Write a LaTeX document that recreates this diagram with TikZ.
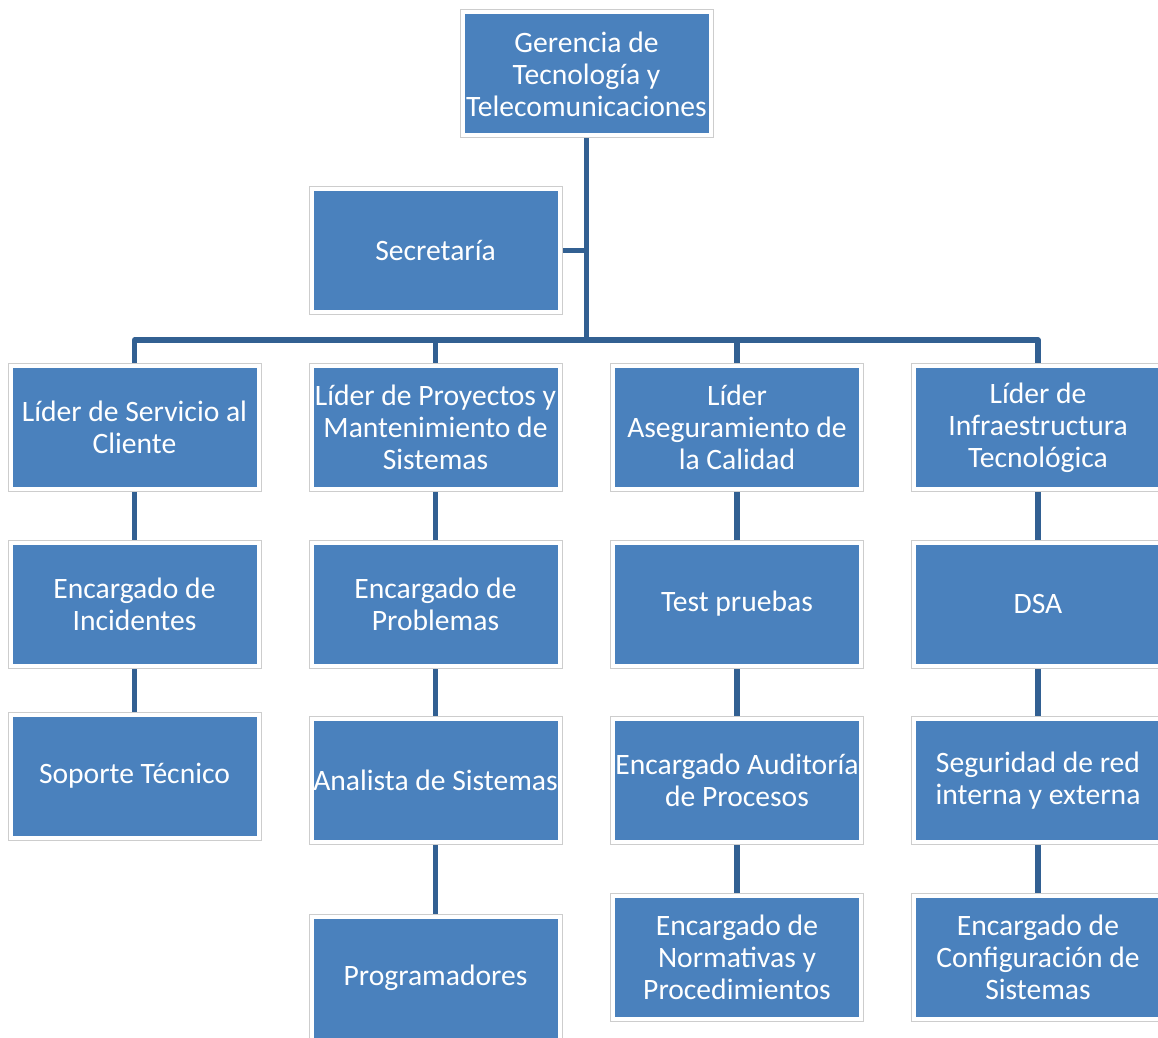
\documentclass[tikz,border=0pt]{standalone}
\usepackage{fontspec}
\setmainfont{Carlito}
\usetikzlibrary{calc}
\pgfdeclarelayer{bg}
\pgfsetlayers{bg,main}
\definecolor{boxblue}{RGB}{74,129,189}
\definecolor{lineblue}{RGB}{50,96,146}
\definecolor{rimgray}{RGB}{205,205,205}
\tikzset{
  orgbox/.style={rectangle, fill=boxblue, draw=white, line width=2pt,
    preaction={draw=rimgray, line width=3pt},
    minimum width=124pt, minimum height=61.5pt, inner sep=0pt,
    align=center, text=white,
    font=\fontsize{14.8pt}{16pt}\selectfont},
  link/.style={draw=lineblue, line width=2.6pt, line join=round}
}
\begin{document}
\begin{tikzpicture}[x=0.5pt,y=-0.5pt]
\useasboundingbox (0,0) rectangle (1158,1038);
% top and secretary
\node[orgbox] (top) at (586.5,74) {Gerencia de\\Tecnología y\\Telecomunicaciones};
\node[orgbox] (sec) at (435.5,250.5) {Secretaría};
% row 1
\node[orgbox] (l1) at (134.5,427.5) {Líder de Servicio al\\Cliente};
\node[orgbox] (l2) at (435.5,427.5) {Líder de Proyectos y\\Mantenimiento de\\Sistemas};
\node[orgbox] (l3) at (737,427.5) {Líder\\Aseguramiento de\\la Calidad};
\node[orgbox] (l4) at (1038,427.5) {Líder de\\Infraestructura\\Tecnológica};
% row 2
\node[orgbox] (a1) at (134.5,604) {Encargado de\\Incidentes};
\node[orgbox] (a2) at (435.5,604) {Encargado de\\Problemas};
\node[orgbox] (a3) at (737,604) {Test pruebas};
\node[orgbox] (a4) at (1038,604) {DSA};
% row 3
\node[orgbox] (b1) at (134.5,776) {Soporte Técnico};
\node[orgbox] (b2) at (435.5,780.5) {Analista de Sistemas};
\node[orgbox] (b3) at (737,780.5) {Encargado Auditoría\\de Procesos};
\node[orgbox] (b4) at (1038,780.5) {Seguridad de red\\interna y externa};
% row 4
\node[orgbox] (c2) at (435.5,978) {Programadores};
\node[orgbox] (c3) at (737,957) {Encargado de\\Normativas y\\Procedimientos};
\node[orgbox] (c4) at (1038,957) {Encargado de\\Configuración de\\Sistemas};
% connectors
\coordinate (bus) at (587,340);
\begin{pgfonlayer}{bg}
\draw[link] (top.south) -- (top.south |- bus);
\draw[link] (sec.east) -- (sec.east -| top.south);
\draw[link] (l1.north) -- (l1.north |- bus) -- (l4.north |- bus) -- (l4.north);
\draw[link] (l2.north) -- (l2.north |- bus);
\draw[link] (l3.north) -- (l3.north |- bus);
\draw[link] (l1.south) -- (a1.north);
\draw[link] (a1.south) -- (b1.north);
\draw[link] (l2.south) -- (a2.north);
\draw[link] (a2.south) -- (b2.north);
\draw[link] (b2.south) -- (c2.north);
\draw[link] (l3.south) -- (a3.north);
\draw[link] (a3.south) -- (b3.north);
\draw[link] (b3.south) -- (c3.north);
\draw[link] (l4.south) -- (a4.north);
\draw[link] (a4.south) -- (b4.north);
\draw[link] (b4.south) -- (c4.north);
\end{pgfonlayer}
\end{tikzpicture}
\end{document}
